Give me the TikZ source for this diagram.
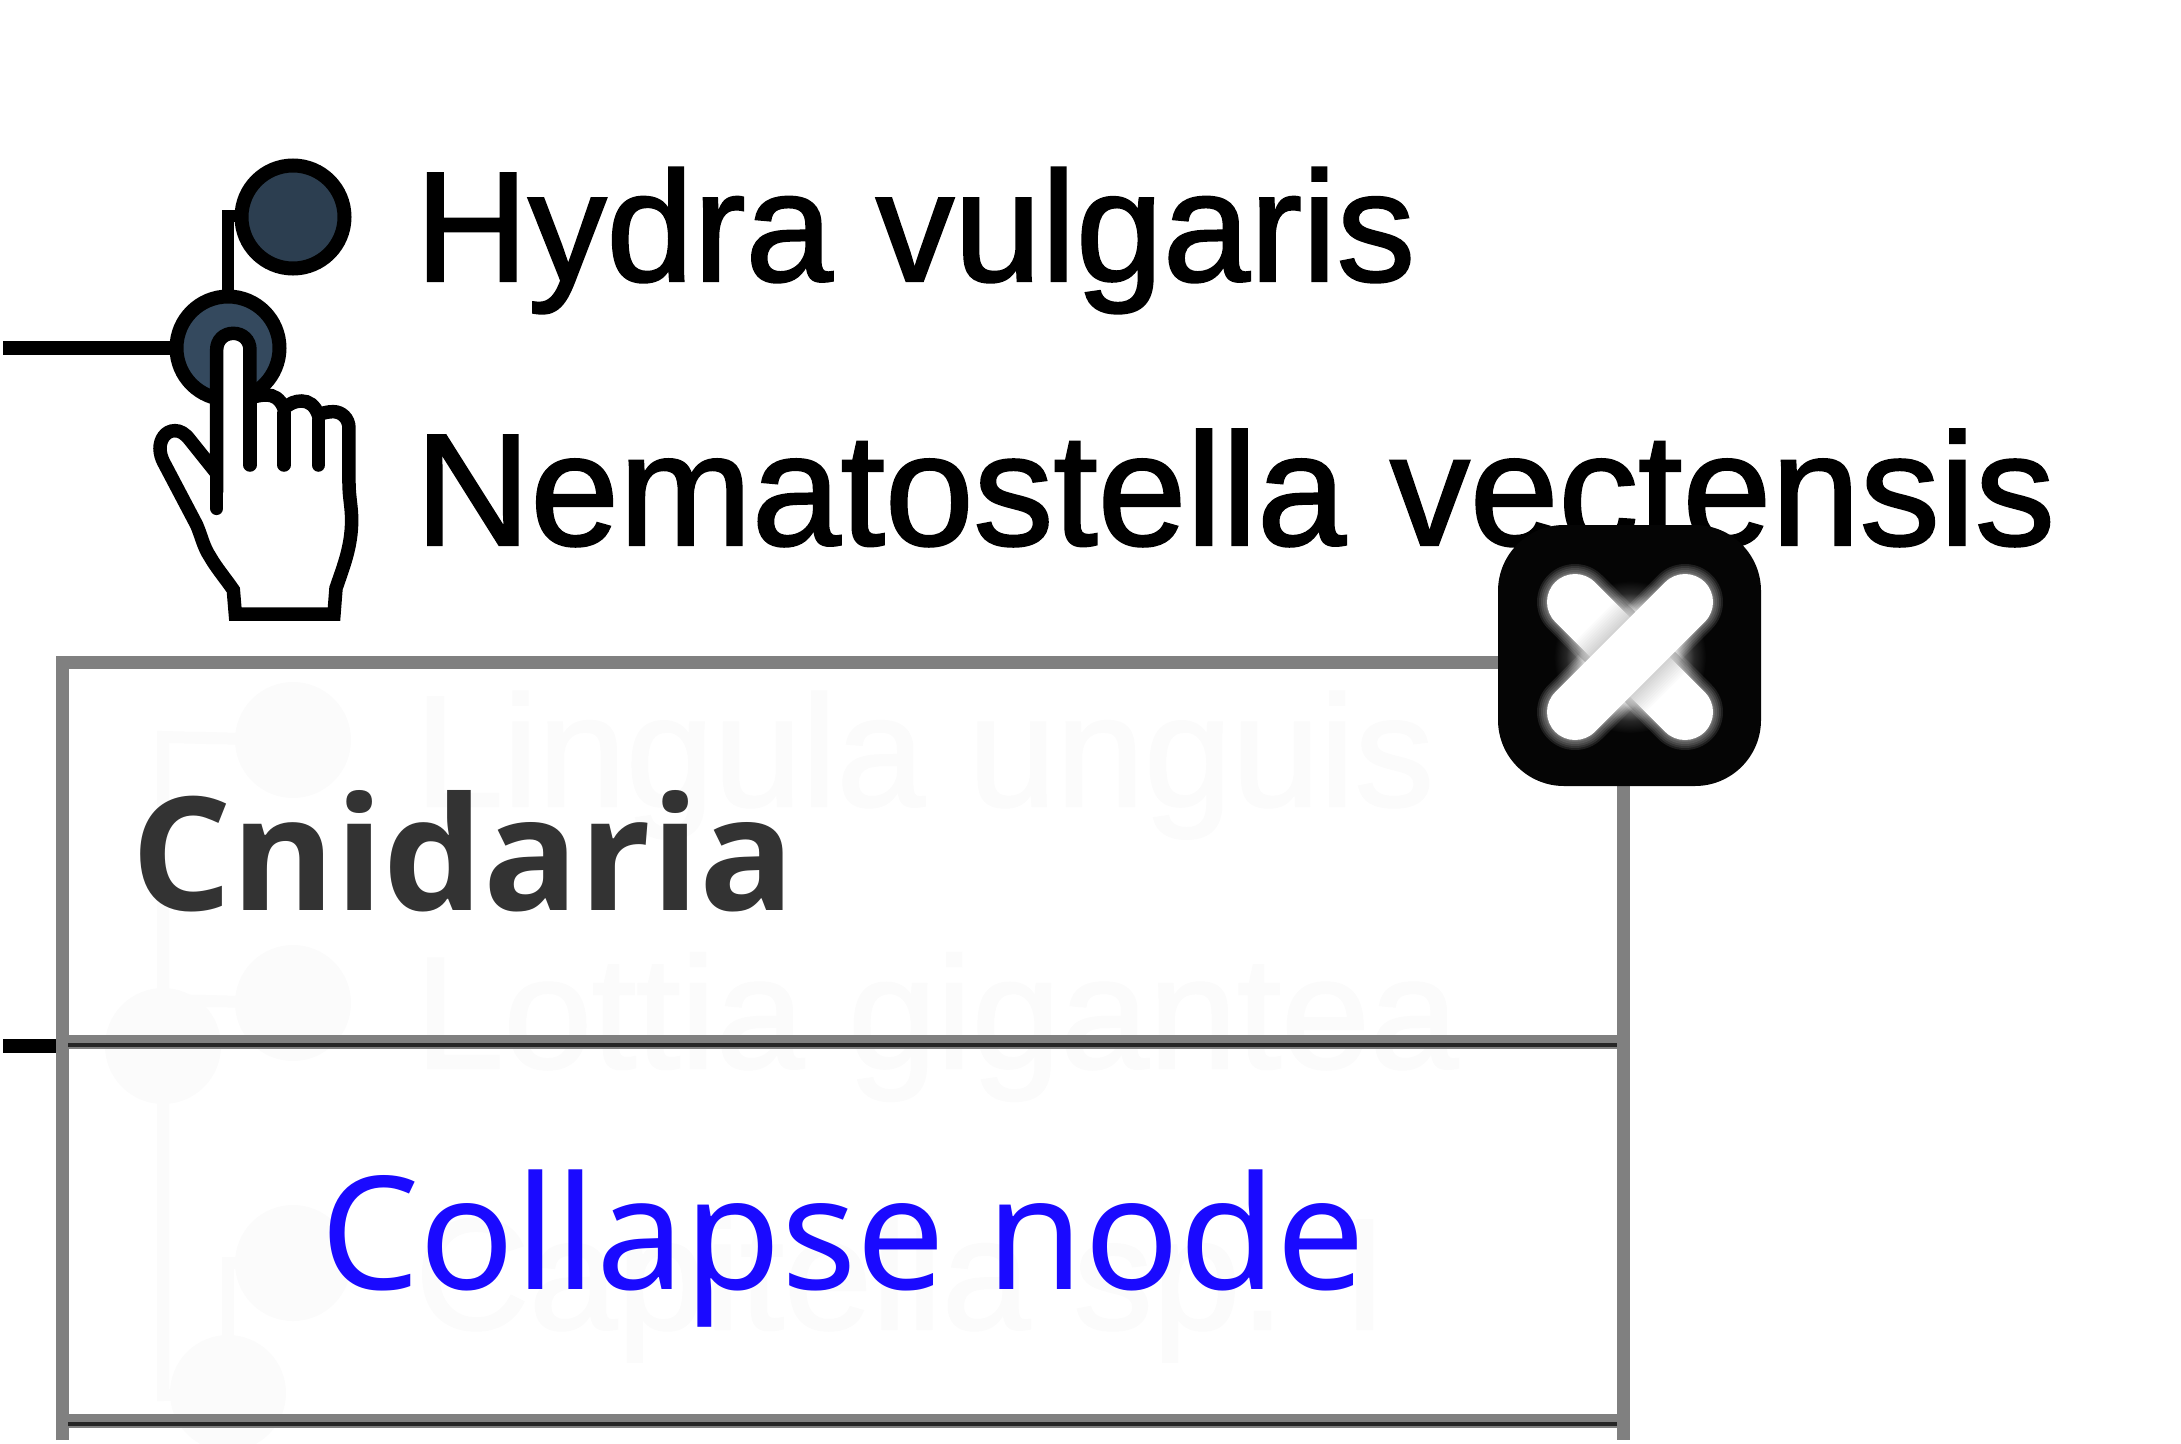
\documentclass[tikz,border=0pt]{standalone}
\usepackage{fontspec}
\setmainfont{Liberation Sans}[FakeBold=1.5]
\newfontfamily\notofont{Noto Sans}
\newfontfamily\headfont{Open Sans}
\definecolor{ghost}{HTML}{FBFBFB}
\definecolor{panelgray}{HTML}{808080}
\definecolor{linkblue}{HTML}{1A0AFF}
\definecolor{headtext}{HTML}{333333}
\definecolor{leafblue}{HTML}{2C3E50}
\definecolor{innerblue}{HTML}{34495E}
\definecolor{btnblack}{HTML}{050505}
\pgfdeclareradialshading{xglow}{\pgfpoint{0bp}{0bp}}{%
  color(0bp)=(white);color(12bp)=(white);color(15bp)=(black!30!white);
  color(18bp)=(black!62!white);color(21bp)=(black!85!white);color(25bp)=(btnblack);color(50bp)=(btnblack)}
\tikzset{
  treedot/.style={circle,draw=black,line width=14pt,minimum size=103pt,inner sep=0pt,fill=#1},
  ghostdot/.style={circle,fill=ghost,minimum size=116pt,inner sep=0pt},
  branch/.style={draw=black,line width=12.5pt},
  rootbranch/.style={draw=black,line width=14pt},
  ghostbranch/.style={draw=ghost,line width=12pt},
  taxon/.style={anchor=base west,inner sep=0pt,font=\fontsize{158}{158}\selectfont,text=#1},
  panelline/.style={draw=panelgray,line width=13pt},
  divider/.style={draw=panelgray,line width=14pt},
  dividercore/.style={draw=black!85,line width=3.5pt},
}
\begin{document}
\begin{tikzpicture}[x=1pt,y=-1pt]
\useasboundingbox (0,0) rectangle (2181,1443);
% tree above the panel
\coordinate (rootA) at (3,348);
\coordinate (rootB) at (3,1046);
\coordinate (elbow) at (228,216);
\coordinate (stubEnd) at (60,1046);
\path[rootbranch] (rootA) -- (228,348);
\path[branch] (228,348) -- (elbow) -- (293,216);
\path[rootbranch] (rootB) -- (stubEnd);
\node[treedot=leafblue] (hydra) at (293,217) {};
\node[treedot=innerblue] (cnid) at (228,348) {};
\node[taxon=black] (hydraT) at (415,281) {\fontsize{156.5}{156.5}\selectfont Hydra vulgaris};
\node[taxon=black] (nemaT) at (415,545) {\fontsize{159.5}{159.5}\selectfont Nematostella vectensis};
% ghost tree and labels behind the panel
\node[ghostdot] (g1) at (293,740) {};
\node[ghostdot] (g2) at (293,1003) {};
\node[ghostdot] (g3) at (163,1046) {};
\node[ghostdot] (g4) at (293,1263) {};
\node[ghostdot] (g5) at (228,1393) {};
\path[ghostbranch] (g1.center) -- (163,737) -- (g3.center);
\path[ghostbranch] (g2.center) -- (163,1000);
\path[ghostbranch] (g3.center) -- (163,1395) -- (g5.center);
\path[ghostbranch] (g5.center) -- (228,1263) -- (g4.center);
\node[taxon=ghost] (g1T) at (415,806) {Lingula unguis};
\node[taxon=ghost] (g2T) at (415,1068) {\fontsize{159}{159}\selectfont Lottia gigantea};
\node[taxon=ghost] (g4T) at (415,1329) {Capitella sp. I};
% panel
\coordinate (pTL) at (62,662);
\coordinate (pTR) at (1623,662);
\coordinate (pBL) at (62,1440);
\coordinate (pBR) at (1623,1440);
\path[panelline,line cap=butt] (pBL) -- (pTL) -- (pTR) -- (pBR);
\path[divider] (68,1042) -- (1617,1042);
\path[dividercore] (68,1045) -- (1617,1045);
\path[divider] (68,1421) -- (1617,1421);
\path[dividercore] (68,1424) -- (1617,1424);
\node[anchor=base west,inner sep=0pt,text=headtext,font=\headfont\bfseries\fontsize{158}{158}\selectfont] (head) at (131,910) {Cnidaria};
\node[anchor=base west,inner sep=0pt,text=linkblue,font=\notofont\fontsize{157.5}{157.5}\selectfont] (act) at (320,1289) {Collapse node};
% close button
\path[fill=btnblack,rounded corners=66pt] (1498,525) rectangle (1761,786);
\coordinate (xA) at (1575,602);
\coordinate (xB) at (1685,712);
\coordinate (xC) at (1685,602);
\coordinate (xD) at (1575,712);
\coordinate (xMid) at (1630,657);
\path[shading=xglow] (xMid) circle (76pt);
\foreach \w in {76,72,68,64,60,58}{
  \path[draw=white,opacity=0.1,line width=\w pt,line cap=round] (xA) -- (xB);
  \path[draw=white,opacity=0.1,line width=\w pt,line cap=round] (xC) -- (xD);
}
\path[draw=white,line width=56pt,line cap=round] (xA) -- (xB);
\begin{scope}
  \clip (1550,577) -- (1600,577) -- (1710,687) -- (1710,737) -- (1660,737) -- (1550,627) -- cycle;
  \foreach \w in {100,96,...,60}{
    \path[draw=black,opacity=0.017,line width=\w pt] (xC) -- (xD);
  }
\end{scope}
\path[draw=white,line width=56pt,line cap=round] (xC) -- (xD);
% pointing hand
\begin{scope}[shift={(0pt,-120pt)},x=0.33333pt,y=-0.33333pt,line width=13.5pt,line join=miter,line cap=round]
  \path[draw=black,fill=white]
    (706,1482) -- (1002,1482) -- (1008,1405)
    .. controls (1030,1340) and (1055,1280) .. (1055,1200)
    .. controls (1055,1160) and (1047,1130) .. (1047,1090)
    -- (1047,925)
    .. controls (1047,895) and (1025,875) .. (1000,875)
    .. controls (985,875) and (970,878) .. (955,885)
    .. controls (945,855) and (925,843) .. (905,843)
    .. controls (885,843) and (870,850) .. (852,865)
    .. controls (840,835) and (820,825) .. (800,825)
    .. controls (785,825) and (765,828) .. (750,835)
    -- (750,690)
    .. controls (750,660) and (728,640) .. (700,640)
    .. controls (672,640) and (650,660) .. (650,690)
    -- (650,1060) -- (570,960)
    .. controls (555,940) and (540,932) .. (525,932)
    .. controls (495,932) and (480,960) .. (480,985)
    .. controls (480,1000) and (485,1015) .. (490,1025)
    -- (590,1215)
    .. controls (605,1250) and (610,1280) .. (630,1310)
    .. controls (650,1345) and (680,1380) .. (700,1410)
    -- cycle;
  \path[draw=black] (650,1165) -- (650,1000);
  \path[draw=black] (750,1035) -- (750,850);
  \path[draw=black] (852,1035) -- (852,880);
  \path[draw=black] (955,1035) -- (955,900);
\end{scope}
\end{tikzpicture}
\end{document}
